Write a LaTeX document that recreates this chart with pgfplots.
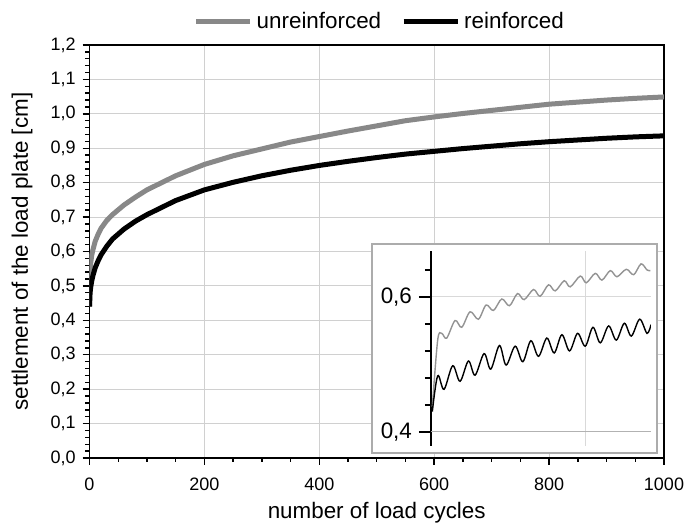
\documentclass[border=0pt]{standalone}
\usepackage{fontspec}
\setmainfont{Liberation Sans}
\usepackage{pgfplots}
\pgfplotsset{compat=1.18}
\definecolor{urf}{HTML}{888888}
\definecolor{gridc}{HTML}{D0D0D0}

\begin{document}
\begin{tikzpicture}
% fixed page: 687x523 px at 0.5pt per px, origin at the main plot's lower left
\useasboundingbox (-44.75pt,-32.5pt) rectangle (298.75pt,229pt);

\begin{axis}[
  scale only axis, width=287.25pt, height=206.5pt,
  xmin=0, xmax=1000, ymin=0, ymax=1.2,
  xtick={0,200,...,1000}, minor x tick num=3,
  ytick={0,0.1,...,1.21}, minor y tick num=4,
  tick align=outside, tick pos=left,
  major tick length=3.4pt, minor tick length=2pt,
  every tick/.style={black, line width=0.7pt},
  axis line style={black, line width=0.9pt},
  grid=major, grid style={gridc, line width=0.5pt},
  /pgf/number format/assume math mode=true,
  xticklabel style={font=\fontsize{9}{10}\selectfont, yshift=-3pt,
    /pgf/number format/1000 sep={}},
  yticklabel style={font=\fontsize{9}{10}\selectfont,
    /pgf/number format/.cd, fixed, fixed zerofill, precision=1, use comma},
  legend columns=2,
  legend style={draw=none, fill=none, at={(0.507,1.0557)}, anchor=center,
    font=\fontsize{11.2}{12}\selectfont, inner sep=0pt,
    /tikz/every even column/.append style={column sep=8pt},
    nodes={inner sep=2pt}},
  legend image code/.code={\draw[#1] (0pt,0pt) -- (27pt,0pt);},
]
\addplot[urf, line width=2.5pt] coordinates {
(0,0.44) (0.5,0.52) (1,0.545) (2,0.565) (4,0.59) (6,0.605) (10,0.63)
(15,0.65) (20,0.667) (30,0.69) (40,0.707) (60,0.735) (80,0.758) (100,0.779)
(150,0.82) (200,0.853) (250,0.878) (300,0.898) (350,0.918) (400,0.934)
(450,0.950) (500,0.965) (550,0.980) (600,0.991) (650,1.001) (700,1.010)
(750,1.019) (800,1.028) (850,1.034) (900,1.040) (950,1.045) (1000,1.049)};
\addlegendentry{unreinforced}
\addplot[black, line width=2.5pt] coordinates {
(0,0.44) (1,0.48) (2,0.495) (4,0.515) (6,0.53) (10,0.553) (15,0.573)
(20,0.59) (30,0.615) (40,0.636) (60,0.665) (80,0.688) (100,0.707)
(150,0.748) (200,0.779) (250,0.801) (300,0.820) (350,0.836) (400,0.850)
(450,0.862) (500,0.873) (550,0.883) (600,0.891) (650,0.899) (700,0.906)
(750,0.913) (800,0.919) (850,0.924) (900,0.929) (950,0.933) (1000,0.936)};
\addlegendentry{reinforced}
\end{axis}

\node[rotate=90, font=\fontsize{11.2}{12}\selectfont] at (-33.75pt,103.25pt)
  {settlement of the load plate [cm]};
\node[anchor=base, font=\fontsize{11.2}{12}\selectfont] at (143.6pt,-30.5pt)
  {number of load cycles};

% inset frame
\draw[fill=white, draw=gray!65, line width=0.75pt]
  (141.25pt,2.5pt) rectangle (283.75pt,107pt);

\begin{axis}[
  at={(170.75pt,6pt)}, anchor=south west,
  scale only axis, width=110pt, height=97.65pt,
  xmin=0, xmax=14.2, ymin=0.379, ymax=0.6686,
  axis lines*=left,
  x axis line style={draw=none},
  y axis line style={black, line width=1pt},
  xtick={10}, xticklabels={}, xtick style={draw=none},
  ytick={0.6}, minor ytick={0.44,0.48,0.52,0.56,0.64},
  extra y ticks={0.4},
  extra y tick style={grid style={gray!60, line width=0.5pt}},
  tick align=outside,
  major tick length=6pt, minor tick length=3pt,
  ytick style={black, line width=0.7pt},
  grid=major, grid style={gray!30, line width=0.5pt},
  /pgf/number format/assume math mode=true,
  yticklabel style={font=\fontsize{11.2}{12}\selectfont,
    /pgf/number format/.cd, fixed, fixed zerofill, precision=1, use comma},
]
\addplot[gray!85, line width=0.7pt, smooth, tension=0.55] coordinates {
(0.086,0.437) (0.431,0.536) (0.690,0.546) (1.013,0.539) (1.552,0.565)
(1.983,0.555) (2.522,0.578) (3.060,0.567) (3.556,0.588) (4.030,0.580)
(4.569,0.597) (5.065,0.587) (5.582,0.605) (6.013,0.596) (6.616,0.611)
(7.047,0.601) (7.586,0.618) (8.017,0.609) (8.599,0.624) (8.987,0.615)
(9.634,0.631) (10.022,0.621) (10.603,0.635) (11.034,0.625) (11.573,0.639)
(12.004,0.630) (12.608,0.641) (13.082,0.633) (13.556,0.649) (13.944,0.640)
(14.159,0.639)};
\addplot[black, line width=0.7pt, smooth, tension=0.55] coordinates {
(0.086,0.430) (0.431,0.483) (0.841,0.463) (1.401,0.498) (1.875,0.475)
(2.414,0.505) (2.845,0.484) (3.427,0.516) (3.858,0.493) (4.418,0.528)
(4.849,0.499) (5.431,0.527) (5.927,0.504) (6.444,0.535) (6.940,0.512)
(7.478,0.539) (7.953,0.517) (8.448,0.544) (8.944,0.520) (9.461,0.546)
(9.957,0.527) (10.453,0.555) (10.927,0.532) (11.466,0.557) (11.961,0.536)
(12.478,0.561) (12.931,0.542) (13.470,0.567) (13.944,0.546) (14.203,0.559)};
\end{axis}
\end{tikzpicture}
\end{document}
